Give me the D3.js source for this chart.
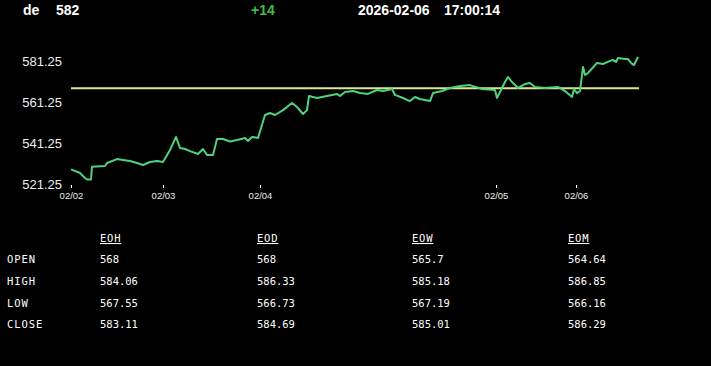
<!DOCTYPE html>
<html>
<head>
<meta charset="utf-8">
<script src="https://cdn.jsdelivr.net/npm/d3@7"></script>
<style>
  body { margin: 0; background: #000; }
  svg { display: block; }
</style>
</head>
<body>
<div id="chart-area"></div>
<script>
// header values
const symbol = "de"
const lastPrice = "582"
const change = "+14"
const stamp = ["2026-02-06", "17:00:14"]

// price line: session slot, price
const slots = [0, 2.25, 3.5, 4, 5, 5.25, 8.5, 9, 11.5, 13, 14.75, 16.5, 18, 19.75, 21.5, 23,
  24.75, 26.25, 27.25, 28.5, 29.75, 31.75, 33, 34, 35.5, 36.5, 38, 39.75, 41.5, 43.5, 44.25,
  45.25, 46.75, 48.5, 49.75, 51, 53, 55.25, 56.5, 58, 59, 59.5, 61.5, 64, 66.5, 67.25, 68.5,
  70.5, 72.25, 74.25, 76.5, 78, 80.25, 81, 83, 84.75, 86, 87.25, 89.75, 90.5, 92.75, 94.75,
  97.25, 99.75, 102.75, 106, 106.5, 107.25, 108.5, 109.25, 110.5, 111.75, 113.5, 114.75, 116,
  118.5, 121.75, 123.5, 125.25, 125.75, 126.5, 127.25, 128, 128.5, 129.25, 131.5, 133, 134.75,
  135.5, 136.25, 136.75, 138.5, 139.25, 140.25, 140.75, 141.75]
const prices = [528.4, 526.6, 524.2, 523.5, 523.5, 529.7, 530.0, 531.5, 533.4, 533.0, 532.5, 531.5, 530.5, 532.0, 532.5, 532.0,
  537.8, 544.2, 538.8, 538.3, 537.3, 535.9, 538.3, 535.4, 535.4, 543.2, 543.2, 542.0, 542.7, 543.7, 542.2,
  544.2, 543.7, 554.9, 555.9, 554.9, 557.3, 560.8, 558.8, 555.4, 557.3, 564.2, 563.2, 564.2, 565.2, 564.2, 566.1,
  566.6, 565.6, 565.2, 567.1, 566.6, 567.6, 564.7, 563.2, 561.7, 563.7, 562.7, 561.7, 565.6, 566.6, 568.1,
  569.1, 569.5, 567.6, 567.1, 563.2, 566.1, 571.0, 573.4, 570.5, 568.1, 570.0, 570.5, 568.6,
  568.1, 568.6, 566.6, 563.7, 567.6, 565.6, 566.6, 578.3, 574.4, 575.4, 580.3, 579.8, 581.3,
  581.7, 580.8, 582.7, 582.2, 582.2, 579.8, 579.3, 583.2]
const openLevel = 568

// axes
const yTicks = [521.25, 541.25, 561.25, 581.25]
const dayTicks = [0, 23, 47.25, 106.25, 126.25]
const dayLabels = ["02/02", "02/03", "02/04", "02/05", "02/06"]

// table
const colNames = ["EOH", "EOD", "EOW", "EOM"]
const rowNames = ["OPEN", "HIGH", "LOW", "CLOSE"]
const openVals = ["568", "568", "565.7", "564.64"]
const highVals = ["584.06", "586.33", "585.18", "586.85"]
const lowVals = ["567.55", "566.73", "567.19", "566.16"]
const closeVals = ["583.11", "584.69", "585.01", "586.29"]

const W = 711, H = 366

const svg = d3.select("#chart-area").append("svg")
    .attr("width", W)
    .attr("height", H)
    .style("background", "#000")

// Header
const hdr = svg.append("g")
    .attr("font-family", "Liberation Sans, Arial, sans-serif")
    .attr("font-weight", "bold")
    .attr("font-size", "14px")
hdr.append("text").attr("x", 23).attr("y", 15).attr("fill", "#fff").text(symbol)
hdr.append("text").attr("x", 56).attr("y", 15).attr("fill", "#fff").text(lastPrice)
hdr.append("text").attr("x", 251).attr("y", 15).attr("fill", "#3fbf3f").text(change)
hdr.append("text").attr("x", 358).attr("y", 15).attr("fill", "#fff").text(stamp[0])
hdr.append("text").attr("x", 444).attr("y", 15).attr("fill", "#fff").text(stamp[1])

// Scales
const x = d3.scaleLinear()
    .domain([0, 142])
    .range([71, 639])

const y = d3.scaleLinear()
    .domain([521.25, 581.25])
    .range([184, 61])

// Y Axis
const yAxis = svg.append("g")
    .attr("transform", "translate(64, 0)")
    .call(d3.axisLeft(y).tickValues(yTicks).tickSize(0).tickPadding(2).tickFormat(d3.format(".2f")))
yAxis.select(".domain").remove()
yAxis.selectAll("text")
    .attr("fill", "#eee")
    .attr("font-size", "13px")
    .attr("font-family", "Liberation Sans, Arial, sans-serif")

// X Axis
const xAxis = svg.append("g")
    .attr("transform", "translate(0, 185)")
    .call(d3.axisBottom(x).tickValues(dayTicks).tickSize(3).tickPadding(4)
        .tickFormat((d, i) => dayLabels[i]))
xAxis.select(".domain").remove()
xAxis.selectAll("line").attr("stroke", "#fff")
xAxis.selectAll("text")
    .attr("fill", "#eee")
    .attr("font-size", "9.5px")
    .attr("font-family", "Liberation Sans, Arial, sans-serif")

// open reference line
svg.append("line")
    .attr("x1", x(0))
    .attr("x2", x(142))
    .attr("y1", y(openLevel))
    .attr("y2", y(openLevel))
    .attr("stroke", "#dbe98c")
    .attr("stroke-width", 2)

// price line
const pts = slots.map((s, i) => [s, prices[i]])
svg.append("path")
    .datum(pts)
    .attr("fill", "none")
    .attr("stroke", "#4fd27e")
    .attr("stroke-width", 2)
    .attr("stroke-linejoin", "round")
    .attr("d", d3.line().x(d => x(d[0])).y(d => y(d[1])))

// Table
const tbl = svg.append("g")
    .attr("font-family", "DejaVu Sans Mono, monospace")
    .attr("font-size", "10.5px")
    .attr("fill", "#fff")
const colX = [100, 257, 412, 568]
const rowY = [263, 285, 307, 328]
const rows = [openVals, highVals, lowVals, closeVals]

tbl.selectAll(".colname").data(colNames).enter().append("text")
    .attr("class", "colname")
    .attr("x", (d, i) => colX[i])
    .attr("y", 242)
    .attr("letter-spacing", "0.8px")
    .attr("text-decoration", "underline")
    .text(d => d)

tbl.selectAll(".rowname").data(rowNames).enter().append("text")
    .attr("class", "rowname")
    .attr("x", 7)
    .attr("y", (d, i) => rowY[i])
    .attr("letter-spacing", "0.9px")
    .text(d => d)

rows.forEach((vals, r) => {
    tbl.selectAll(".v" + r).data(vals).enter().append("text")
        .attr("class", "v" + r)
        .attr("x", (d, i) => colX[i])
        .attr("y", rowY[r])
        .text(d => d)
})
</script>
</body>
</html>
